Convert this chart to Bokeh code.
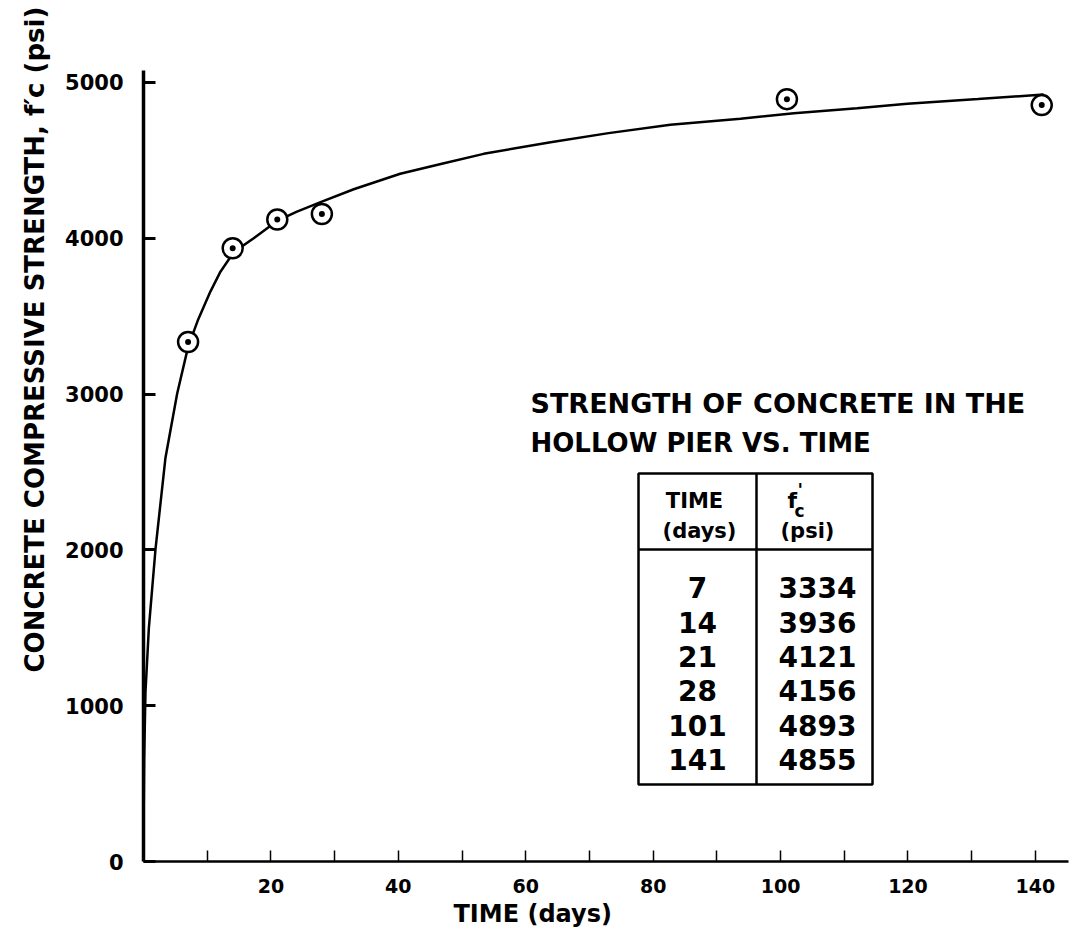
from bokeh.plotting import figure
from bokeh.models import Range1d, FixedTicker, Label, BoxAnnotation, PolyAnnotation, Title
from bokeh.embed import file_html
from bokeh.resources import INLINE

# ---------------- data ----------------
table_days = [7, 14, 21, 28, 101, 141]
table_psi = [3334, 3936, 4121, 4156, 4893, 4855]

# fitted curve, points
curve_days = [0.0, 0.1, 0.31, 0.84, 1.88, 3.45, 5.28, 7.0, 8.5, 10.5, 12.0, 14.2, 17.3, 20.9,
              24.0, 27.8, 33.0, 40.3, 47.0, 53.4, 63.9, 73.0, 82.7, 93.7, 102.1, 112.0,
              119.9, 131.0, 141.3]
curve_psi = [150, 650, 1088, 1498, 2004, 2592, 3002, 3303, 3470, 3658, 3780, 3913, 4000, 4110,
             4170, 4232, 4315, 4414, 4480, 4542, 4617, 4675, 4729, 4768, 4803, 4835,
             4863, 4894, 4923]

x_ticks = [10, 20, 30, 40, 50, 60, 70, 80, 90, 100, 110, 120, 130, 140]
x_tick_labels = ["", "20", "", "40", "", "60", "", "80", "", "100", "", "120", "", "140"]
y_ticks = [0, 1000, 2000, 3000, 4000, 5000]

title_lines = ["STRENGTH OF CONCRETE IN THE", "HOLLOW PIER VS. TIME"]
x_title = "TIME  (days)"
y_title = "CONCRETE  COMPRESSIVE  STRENGTH, f\u2032c  (psi)"
unit_text = "(psi)"
col1_head = ["TIME", "(days)"]

FONT = "DejaVu Sans"

# ---------------- layout (page pixels) ----------------
W, H = 1070, 936
FL, FT, FR, FB = 143, 70, 1068, 861

p = figure(width=W, height=H, output_backend="svg", toolbar_location=None,
           x_range=Range1d(0, 145.2), y_range=Range1d(0, 5077),
           min_border_left=FL, min_border_top=FT,
           min_border_right=W - FR, min_border_bottom=H - FB)
p.outline_line_color = None
p.grid.visible = False
p.background_fill_color = "white"
p.border_fill_color = "white"


def sx(px):
    return px - FL


def sy(py):
    return FB - py


def lab(text, x, y, size, align="left", baseline="alphabetic", style="bold"):
    p.add_layout(Label(x=sx(x), y=sy(y), x_units="screen", y_units="screen", text=text,
                       text_font=FONT, text_font_size=f"{size}px", text_font_style=style,
                       text_align=align, text_baseline=baseline, text_color="black"))


# ---------------- axes ----------------
p.xaxis.ticker = FixedTicker(ticks=x_ticks)
p.xaxis.major_label_overrides = {t: l for t, l in zip(x_ticks, x_tick_labels)}
p.xaxis.major_tick_in = 11
p.xaxis.major_tick_out = 0
p.xaxis.minor_tick_line_color = None
p.xaxis.major_tick_line_width = 1.5
p.xaxis.axis_line_width = 2.5
p.xaxis.major_label_text_font = FONT
p.xaxis.major_label_text_font_size = "19px"
p.xaxis.major_label_text_font_style = "bold"
p.xaxis.major_label_text_color = "black"
p.xaxis.major_label_standoff = 17

p.yaxis.ticker = FixedTicker(ticks=y_ticks)
p.yaxis.major_tick_in = 12
p.yaxis.major_tick_out = 0
p.yaxis.minor_tick_line_color = None
p.yaxis.major_tick_line_width = 3
p.yaxis.axis_line_width = 3.5
p.yaxis.major_label_text_font = FONT
p.yaxis.major_label_text_font_size = "21px"
p.yaxis.major_label_text_font_style = "bold"
p.yaxis.major_label_text_color = "black"
p.yaxis.major_label_standoff = 20
p.yaxis.major_label_orientation = "horizontal"

# ---------------- data marks ----------------
p.line(curve_days, curve_psi, line_width=2.5, line_color="black")
p.scatter(table_days, table_psi, size=20, fill_color="white", line_color="black", line_width=2.5)
p.scatter(table_days, table_psi, size=6, fill_color="black", line_color=None)

# ---------------- axis titles (side panels, not clipped) ----------------
p.add_layout(Title(text=x_title, align="left", offset=453 - FL, standoff=4,
                   text_font=FONT, text_font_size="24px", text_font_style="bold",
                   text_color="black"), "below")
p.add_layout(Title(text=y_title, align="left", offset=FB - 672, standoff=26,
                   text_font=FONT, text_font_size="26px", text_font_style="bold",
                   text_color="black"), "left")

# ---------------- inset title ----------------
lab(title_lines[0], 530, 403, 27)
lab(title_lines[1], 530, 442, 26)

# ---------------- table ----------------
p.add_layout(BoxAnnotation(left=sx(638), right=sx(872), top=sy(473), bottom=sy(784),
                           left_units="screen", right_units="screen",
                           top_units="screen", bottom_units="screen",
                           fill_alpha=0, line_color="black", line_alpha=1, line_width=2.5))
p.add_layout(PolyAnnotation(xs=[sx(756), sx(756)], ys=[sy(473), sy(784)],
                            xs_units="screen", ys_units="screen",
                            fill_alpha=0, line_color="black", line_alpha=1, line_width=2.5))
p.add_layout(PolyAnnotation(xs=[sx(638), sx(872)], ys=[sy(549), sy(549)],
                            xs_units="screen", ys_units="screen",
                            fill_alpha=0, line_color="black", line_alpha=1, line_width=2.5))

lab(col1_head[0], 694, 500, 21, align="center")
lab(col1_head[1], 699, 530, 21, align="center")
lab("f", 787, 500, 22)
lab("c", 794, 510, 17)
lab("'", 797, 489, 18)
lab(unit_text, 780, 530, 21)

row_base = [587, 621.5, 656, 690, 724.5, 759]
for d, v, yb in zip(table_days, table_psi, row_base):
    lab(str(d), 697, yb, 28, align="center")
    lab(str(v), 778, yb, 28)

open("out.html", "w").write(file_html(p, INLINE))
